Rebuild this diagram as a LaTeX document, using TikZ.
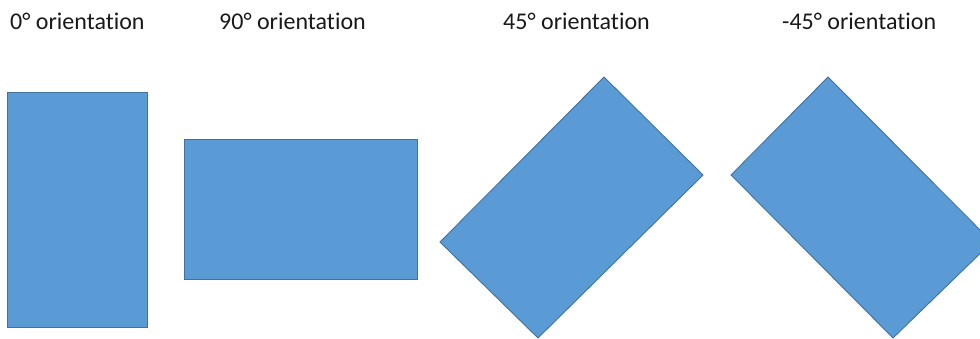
\documentclass[tikz,border=0pt]{standalone}
\usepackage{fontspec}
\setmainfont{Carlito}[Ligatures={NoCommon}]
\definecolor{boxfill}{HTML}{5B9BD5}
\definecolor{boxline}{HTML}{41719C}
\begin{document}
\begin{tikzpicture}[x=1pt,y=-1pt,
  rectshape/.style={fill=boxfill,draw=boxline,line width=0.9pt,line join=miter},
  lbl/.style={anchor=base west,inner sep=0pt,font=\fontsize{24}{27}\selectfont,text=black!90}]
\useasboundingbox (0,0) rectangle (980,339);
\clip (0,0) rectangle (980,339);
\node[lbl] (l0) at (10,30) {0° orientation};
\node[lbl] (l90) at (219,30) {90° orientation};
\node[lbl] (l45) at (503,30) {45° orientation};
\node[lbl] (lm45) at (782,30) {-45° orientation};
\draw[rectshape] (7,92) rectangle (147,327);
\draw[rectshape] (184,139) rectangle (417,279);
\draw[rectshape] (604,77) -- (703,175) -- (538,338) -- (440,242) -- cycle;
\draw[rectshape] (828,77) -- (992,242) -- (893,338) -- (731,175) -- cycle;
\end{tikzpicture}
\end{document}
